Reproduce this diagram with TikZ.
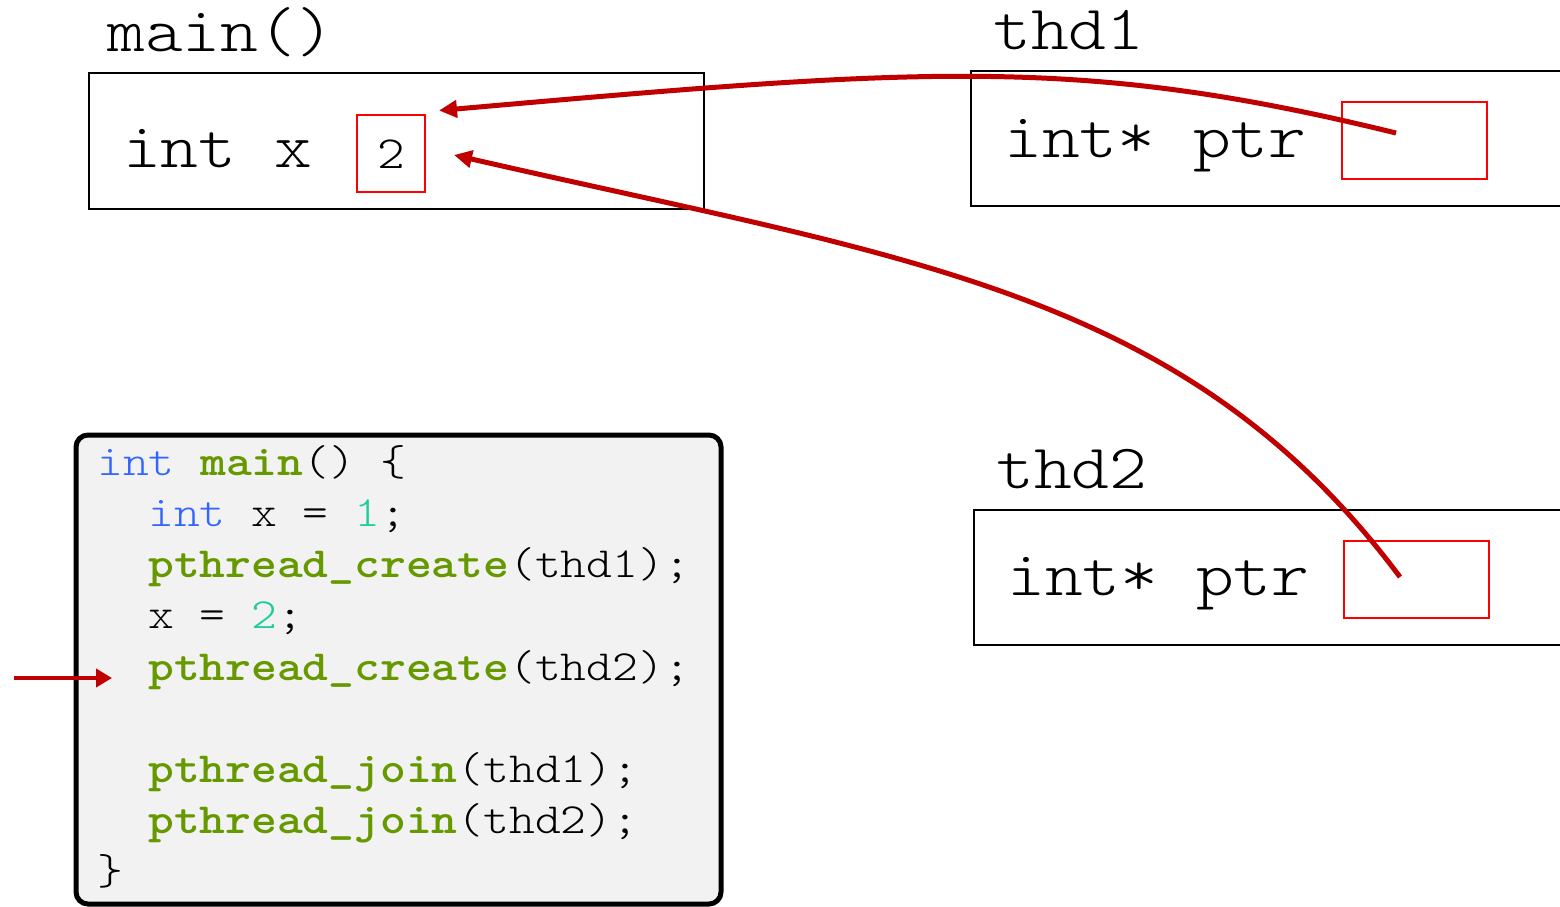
\documentclass[tikz,border=0pt]{standalone}
\usepackage{fontspec}
\setmonofont[FakeStretch=1.1428]{Latin Modern Mono Light}
\usetikzlibrary{arrows.meta}
\definecolor{ptrred}{HTML}{C00000}
\definecolor{cellred}{HTML}{FF0000}
\definecolor{kwblue}{HTML}{3366FF}
\definecolor{fngreen}{HTML}{669900}
\definecolor{numteal}{HTML}{1FCC9A}
\definecolor{codebg}{HTML}{F2F2F2}
\newcommand{\kw}[1]{\textcolor{kwblue}{#1}}
\newcommand{\fn}[1]{\textcolor{fngreen}{\bfseries #1}}
\newcommand{\num}[1]{\textcolor{numteal}{#1}}
\tikzset{
  bigtext/.style={anchor=base west, inner sep=0pt, font=\ttfamily\fontsize{63}{63}\selectfont},
  codetext/.style={anchor=base west, inner sep=0pt, font=\ttfamily\fontsize{43}{43}\selectfont},
  frame/.style={draw=black, line width=2pt, inner sep=0pt},
  cell/.style={draw=cellred, line width=2pt, inner sep=0pt},
  pointer/.style={draw=ptrred, line width=5pt, -{Triangle[length=18pt,width=17pt]}},
}
\begin{document}
\begin{tikzpicture}[x=1pt,y=-1pt]
\useasboundingbox (0,0) rectangle (1560,907);

% stack frame of main()
\node[bigtext] (mainlbl) at (107,52) {main()};
\draw[frame] (89,73) rectangle (704,209);
\node[bigtext] (intx) at (123,167) {int x};
\node[cell, minimum width=68pt, minimum height=77pt] (xcell) at (391,153.5) {};
\node[anchor=base, inner sep=0pt, font=\ttfamily\fontsize{46}{46}\selectfont] (xval) at (xcell.center |- 0,168) {2};

% stack frame of thd1
\node[bigtext] (t1lbl) at (993,50) {thd1};
\draw[frame] (1590,71) -- (971,71) -- (971,206) -- (1590,206);
\node[bigtext] (t1ptr) at (1004,157) {int* ptr};
\node[cell, minimum width=145pt, minimum height=77pt] (p1cell) at (1414.5,140.5) {};

% stack frame of thd2
\node[bigtext] (t2lbl) at (996,488) {thd2};
\draw[frame] (1590,510) -- (974,510) -- (974,645) -- (1590,645);
\node[bigtext] (t2ptr) at (1007,595) {int* ptr};
\node[cell, minimum width=145pt, minimum height=77pt] (p2cell) at (1416.5,579.5) {};

% source listing
\draw[draw=black, line width=5pt, fill=codebg, rounded corners=12pt] (76,435) rectangle (721,904);
\node[codetext] (l1) at (97,475) {\kw{int} \fn{main}() \{};
\node[codetext] (l2) at (148,526) {\kw{int} x = \num{1};};
\node[codetext] (l3) at (148,577) {\fn{pthread\_create}(thd1);};
\node[codetext] (l4) at (148,628) {x = \num{2};};
\node[codetext] (l5) at (148,680) {\fn{pthread\_create}(thd2);};
\node[codetext] (l6) at (148,782) {\fn{pthread\_join}(thd1);};
\node[codetext] (l7) at (148,833) {\fn{pthread\_join}(thd2);};
\node[codetext] (l8) at (97,884) {\}};

% current line marker
\coordinate (pc) at (14,678);
\coordinate (pcend) at (112,678);
\draw[draw=ptrred, line width=4.5pt, -{Triangle[length=16pt,width=18pt]}] (pc) -- (pcend);

% pointers from thd1 and thd2 to x
\coordinate (p1src) at ([shift={(-18.5,-7.5)}]p1cell.center);
\coordinate (p1dst) at ([shift={(13,-3.5)}]xcell.north east);
\coordinate (p2src) at ([shift={(-16.5,-2.5)}]p2cell.center);
\coordinate (p2dst) at ([shift={(28,1.5)}]xcell.east);
\draw[pointer] (p1src) .. controls (1078,55) and (922,68) .. (p1dst);
\draw[pointer] (p2src) .. controls (1185,289) and (907,259) .. (p2dst);
\end{tikzpicture}
\end{document}
